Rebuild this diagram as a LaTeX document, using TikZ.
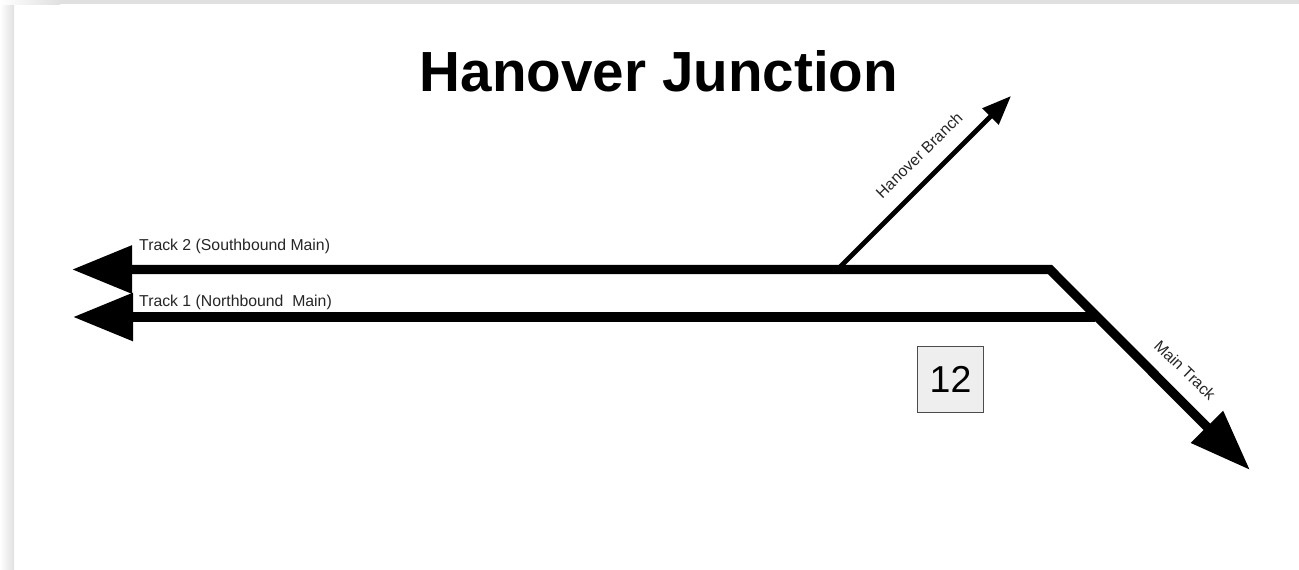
\documentclass[tikz,border=0pt]{standalone}
\usepackage{fontspec}
\setmainfont{Liberation Sans}
\usetikzlibrary{arrows.meta,positioning}
\definecolor{boxgray}{HTML}{EEEEEE}
\definecolor{edgegray}{HTML}{E0E0E0}
\tikzset{
  trackline/.style={line width=9.2pt,line join=miter},
  tracklabel/.style={inner sep=0pt,anchor=base west,font=\fontsize{15.8pt}{17pt}\selectfont,text=black!85},
  signbox/.style={draw=black!70,line width=1.9pt,fill=boxgray,minimum size=66pt,inner sep=0pt,font=\fontsize{37.5pt}{40pt}\selectfont}
}

\begin{document}
\begin{tikzpicture}[x=1pt,y=-1pt]
  \useasboundingbox (0,0) rectangle (1299,570);
  \fill[white] (0,0) rectangle (1299,570);
  % page shadow
  \shade[left color=white,right color=edgegray] (0,0) rectangle (14,570);
  \shade[left color=white,right color=edgegray] (0,0) rectangle (60,4);
  \fill[edgegray] (60,0) rectangle (1299,4);

  \node (title) [inner sep=0pt] at (659,71) {\fontsize{56.6pt}{60pt}\selectfont\bfseries Hanover Junction};

  \coordinate (west2) at (72,269.5);
  \coordinate (west1) at (73,317);
  \coordinate (bend) at (1050,269.5);
  \coordinate (junction) at (1095,317);
  \coordinate (mainend) at (1250,470);
  \coordinate (branchstart) at (838,269);
  \coordinate (branchend) at (1011,96);

  \draw[trackline,{Triangle[length=60pt,width=46pt]}-{Triangle[length=61pt,width=43pt]}] (west2) -- (bend) -- (mainend);
  \draw[trackline,-{Triangle[length=60pt,width=46pt]}] (junction) -- (west1);
  \draw[line width=4.8pt,-{Triangle[length=29pt,width=22pt]}] (branchstart) -- (branchend);

  \node[tracklabel] (track2) at (139,250) {Track 2 (Southbound Main)};
  \node[tracklabel] (track1) at (139,306) {Track 1 (Northbound\ \ Main)};
  \node[tracklabel,anchor=center,rotate=44.5] (branchlabel) at (919,155) {Hanover Branch};
  \node[tracklabel,anchor=center,rotate=-44] (mainlabel) at (1185,370) {Main Track};

  \node[signbox] (sign) at (950.5,379.5) {12};
\end{tikzpicture}
\end{document}
